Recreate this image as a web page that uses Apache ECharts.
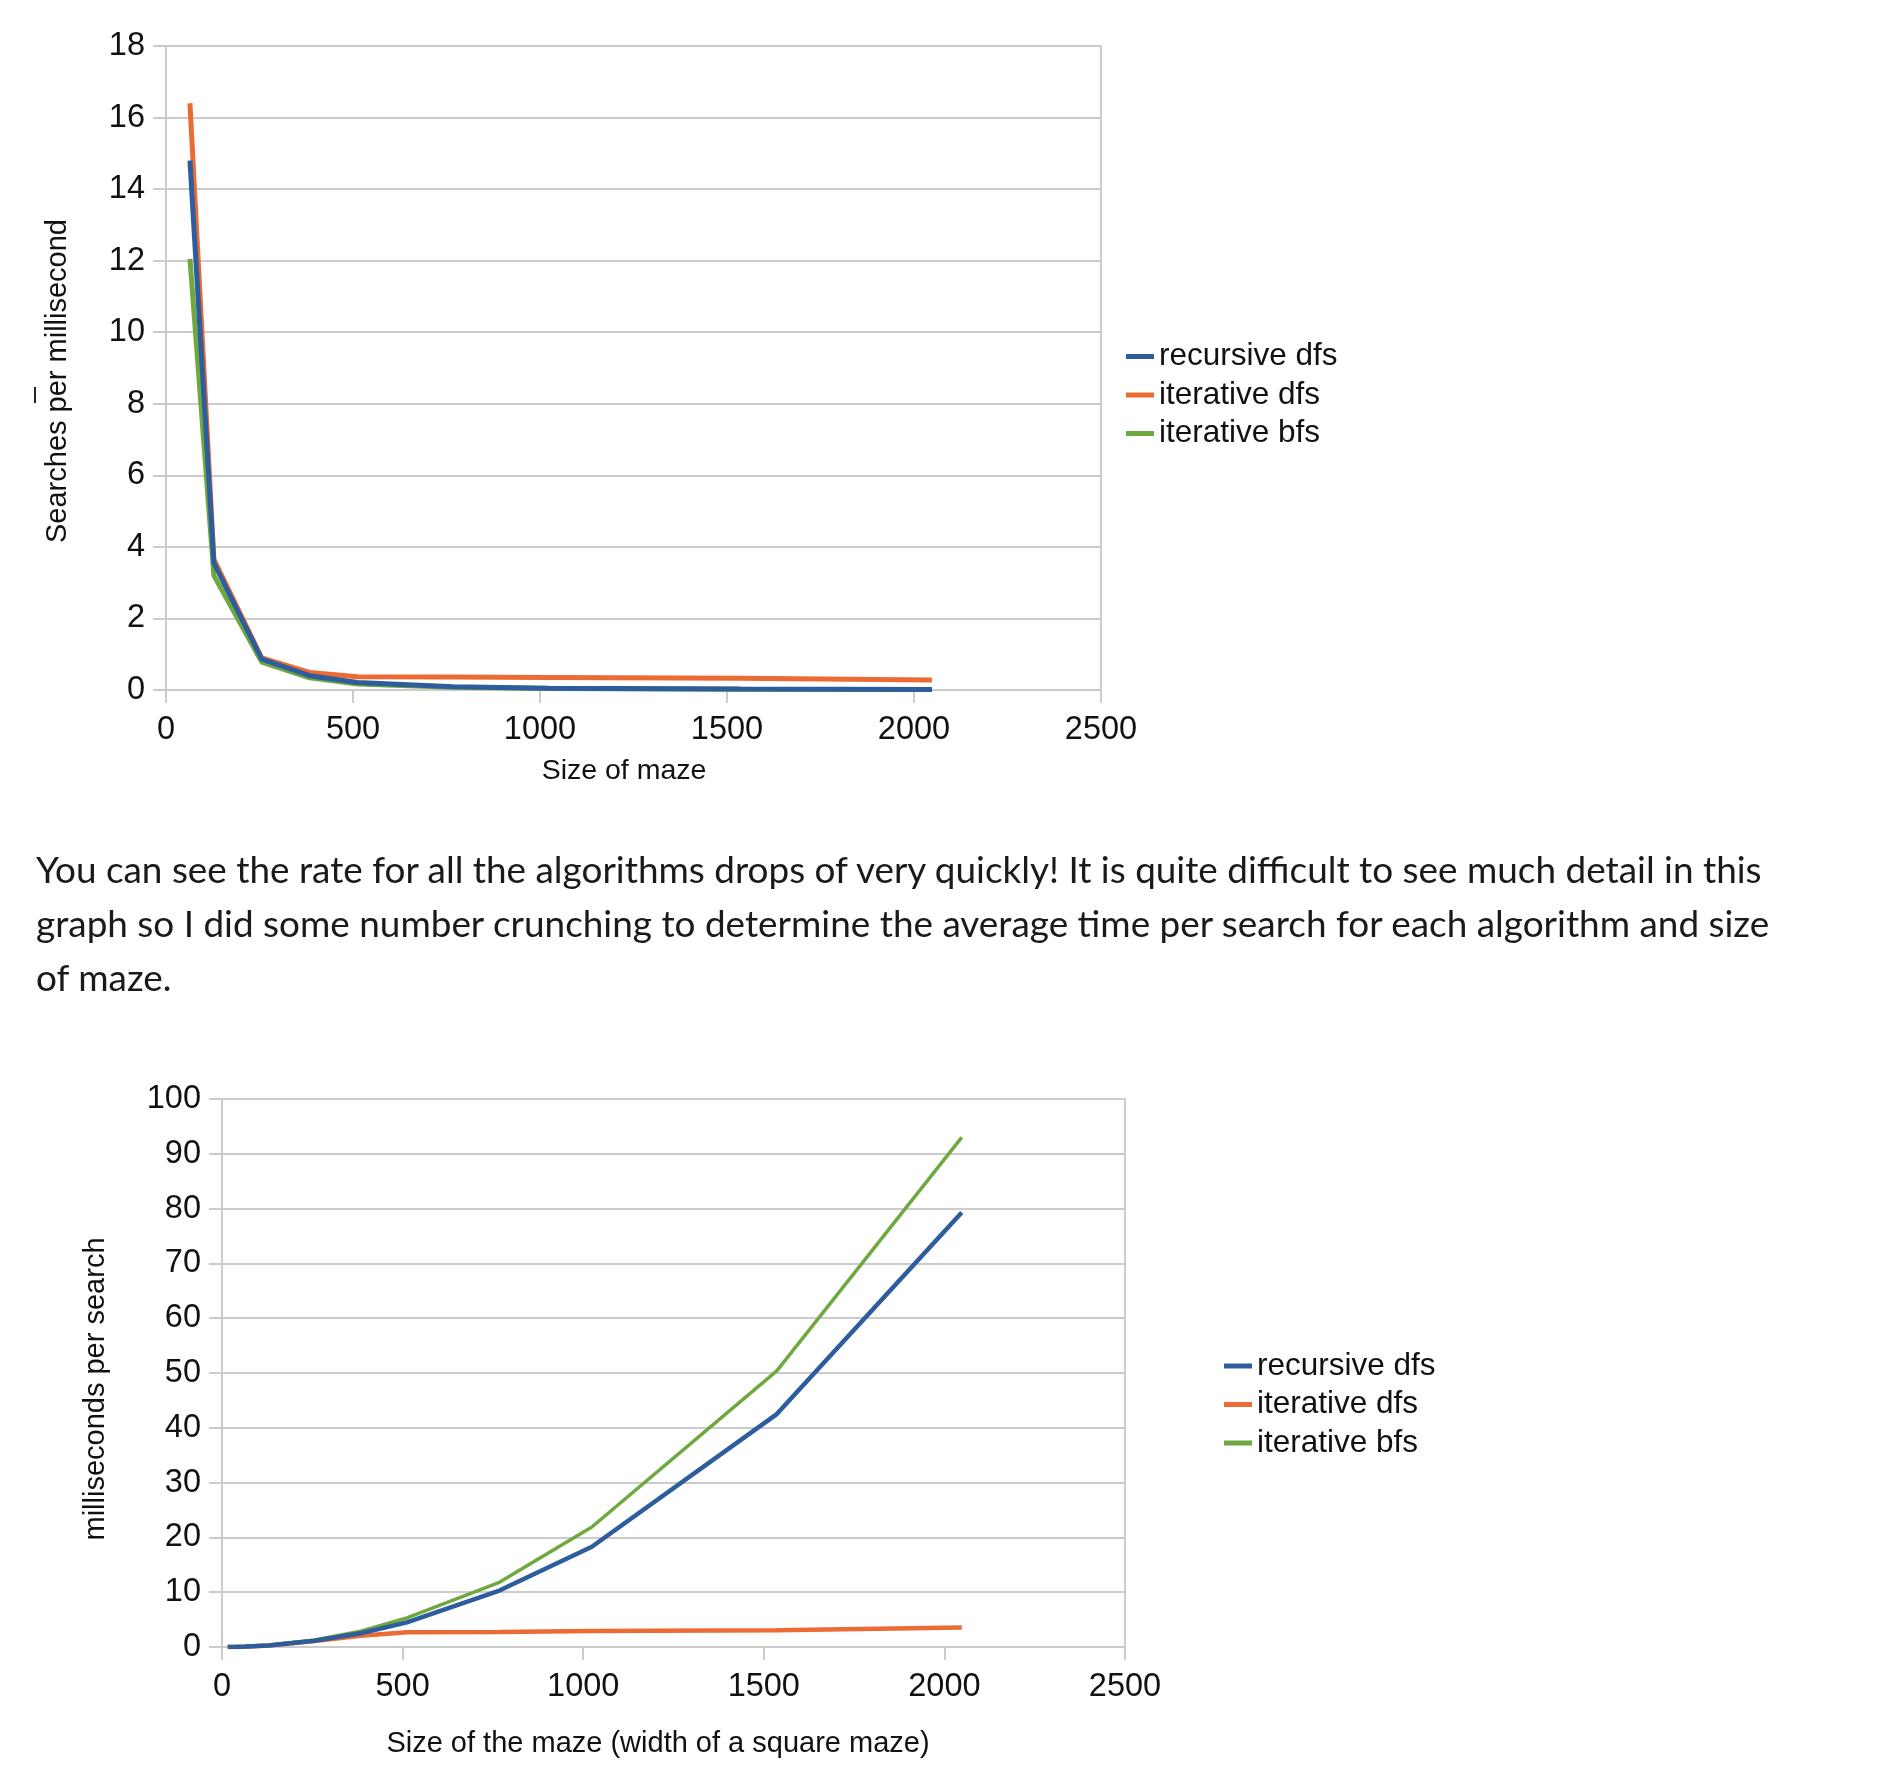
<!DOCTYPE html>
<html>
<head>
<meta charset="utf-8">
<script src="https://cdn.jsdelivr.net/npm/echarts@6/dist/echarts.min.js"></script>
<style>
  html, body { margin: 0; padding: 0; background: #fff; }
  #wrap { position: relative; width: 1880px; height: 1780px; }
  #chart { position: absolute; left: 0; top: 0; width: 1880px; height: 1780px; }
  .para { position: absolute; left: 36px; font-family: Lato, "Open Sans", sans-serif; font-size: 30px; color: #1a1a1a; white-space: nowrap; line-height: 54px; }
  .para span { display: inline-block; }
</style>
</head>
<body>
<div id="wrap">
  <div id="chart"></div>
  <div class="para" id="para" style="top:842px;">
    <span id="l1">You can see the rate for all the algorithms drops of very quickly! It is quite difficult to see much detail in this</span><br>
    <span id="l2">graph so I did some number crunching to determine the average time per search for each algorithm and size</span><br>
    <span id="l3">of maze.</span>
  </div>
</div>
<script>
// ---- Chart 1: searches per millisecond ----
const sizes1 = [64, 128, 256, 384, 512, 768, 1024, 1536, 2048];
const rate_recursiveDfs = [14.8, 3.55, 0.86, 0.4, 0.21, 0.09, 0.05, 0.025, 0.012];
const rate_iterativeDfs = [16.4, 3.65, 0.9, 0.49, 0.37, 0.36, 0.35, 0.33, 0.28];
const rate_iterativeBfs = [12.05, 3.2, 0.78, 0.34, 0.17, 0.08, 0.045, 0.02, 0.011];

// ---- Chart 2: milliseconds per search ----
const sizes2 = [16, 32, 64, 128, 256, 384, 512, 768, 1024, 1536, 2048];
const ms_recursiveDfs = [0.0, 0.02, 0.07, 0.28, 1.15, 2.5, 4.5, 10.3, 18.3, 42.5, 79.3];
const ms_iterativeDfs = [0.0, 0.02, 0.06, 0.27, 1.1, 2.05, 2.7, 2.75, 2.9, 3.05, 3.55];
const ms_iterativeBfs = [0.0, 0.02, 0.08, 0.31, 1.28, 2.9, 5.3, 11.8, 21.9, 50.4, 93.0];

const seriesNames = ['recursive dfs', 'iterative dfs', 'iterative bfs'];
const xTicks = { min: 0, max: 2500, interval: 500 };
const y1Ticks = { min: 0, max: 18, interval: 2 };
const y2Ticks = { min: 0, max: 100, interval: 10 };

const colors = { 'recursive dfs': '#2d5d9c', 'iterative dfs': '#ec6a33', 'iterative bfs': '#6fa83f' };
const FONT = 'Liberation Sans';
const gridColor = '#cbcbcb';
const txt = '#111';

function pairs(xs, ys) { return xs.map((x, i) => [x, ys[i]]); }

function xAxisCfg(idx) {
  return {
    type: 'value', gridIndex: idx, min: xTicks.min, max: xTicks.max, interval: xTicks.interval,
    axisLine: { show: true, lineStyle: { color: gridColor, width: 2 } },
    axisTick: { show: true, length: 13, lineStyle: { color: gridColor, width: 2 } },
    splitLine: { show: false },
    axisLabel: { fontFamily: FONT, fontSize: 32.5, color: txt, margin: 24, formatter: (v) => String(v) }
  };
}
function yAxisCfg(idx, t) {
  return {
    type: 'value', gridIndex: idx, min: t.min, max: t.max, interval: t.interval,
    axisLine: { show: true, lineStyle: { color: gridColor, width: 2 } },
    axisTick: { show: true, length: 13, lineStyle: { color: gridColor, width: 2 } },
    splitLine: { show: true, lineStyle: { color: gridColor, width: 2 } },
    axisLabel: { fontFamily: FONT, fontSize: 32.5, color: txt, margin: 21, formatter: (v) => String(v) }
  };
}
function lineSeries(name, idx, data, width, z) {
  return {
    type: 'line', name: name, xAxisIndex: idx, yAxisIndex: idx, data: data,
    showSymbol: false, symbol: 'none', z: z, silent: true,
    lineStyle: { color: colors[name], width: width },
    itemStyle: { color: colors[name] }
  };
}

const chart = echarts.init(document.getElementById('chart'), null, { renderer: 'canvas' });
chart.setOption({
  animation: false,
  backgroundColor: '#fff',
  grid: [
    { left: 166, top: 46, width: 935, height: 644, show: true, borderColor: gridColor, borderWidth: 2, backgroundColor: 'transparent' },
    { left: 222, top: 1099, width: 903, height: 548, show: true, borderColor: gridColor, borderWidth: 2, backgroundColor: 'transparent' }
  ],
  xAxis: [xAxisCfg(0), xAxisCfg(1)],
  yAxis: [yAxisCfg(0, y1Ticks), yAxisCfg(1, y2Ticks)],
  legend: [
    { orient: 'vertical', left: 1121, top: 335.5, itemWidth: 28, itemHeight: 5, itemGap: 6.5, icon: 'rect',
      data: seriesNames, textStyle: { fontFamily: FONT, fontSize: 31.5, color: txt, lineHeight: 30 }, selectedMode: false },
    { orient: 'vertical', left: 1219, top: 1345, itemWidth: 28, itemHeight: 5, itemGap: 6.5, icon: 'rect',
      data: seriesNames, textStyle: { fontFamily: FONT, fontSize: 31.5, color: txt, lineHeight: 30 }, selectedMode: false }
  ],
  series: [
    lineSeries('iterative dfs', 0, pairs(sizes1, rate_iterativeDfs), 5, 2),
    lineSeries('iterative bfs', 0, pairs(sizes1, rate_iterativeBfs), 5, 3),
    lineSeries('recursive dfs', 0, pairs(sizes1, rate_recursiveDfs), 5, 4),
    lineSeries('iterative dfs', 1, pairs(sizes2, ms_iterativeDfs), 4.5, 2),
    lineSeries('iterative bfs', 1, pairs(sizes2, ms_iterativeBfs), 3.5, 3),
    lineSeries('recursive dfs', 1, pairs(sizes2, ms_recursiveDfs), 4.5, 4)
  ],
  graphic: [
    { type: 'text', x: 58, y: 381, rotation: Math.PI / 2,
      style: { text: 'Searches per millisecond', fontFamily: FONT, fontSize: 29, fill: txt, align: 'center', verticalAlign: 'middle' } },
    { type: 'text', x: 624, y: 771,
      style: { text: 'Size of maze', fontFamily: FONT, fontSize: 28.5, fill: txt, align: 'center', verticalAlign: 'middle' } },
    { type: 'text', x: 96, y: 1389, rotation: Math.PI / 2,
      style: { text: 'milliseconds per search', fontFamily: FONT, fontSize: 29, fill: txt, align: 'center', verticalAlign: 'middle' } },
    { type: 'text', x: 658, y: 1744,
      style: { text: 'Size of the maze (width of a square maze)', fontFamily: FONT, fontSize: 29, fill: txt, align: 'center', verticalAlign: 'middle' } },
    { type: 'line', shape: { x1: 35, y1: 387, x2: 35, y2: 403 }, style: { stroke: '#222', lineWidth: 2 } }
  ]
});

// Fit the paragraph font so the wrapped lines span the same widths as in the reference.
(function fitPara() {
  const l1 = document.getElementById('l1');
  const l2 = document.getElementById('l2');
  const r = ((1722 / l1.getBoundingClientRect().width) + (1738 / l2.getBoundingClientRect().width)) / 2;
  document.getElementById('para').style.fontSize = (30 * r).toFixed(2) + 'px';
})();
</script>
</body>
</html>
